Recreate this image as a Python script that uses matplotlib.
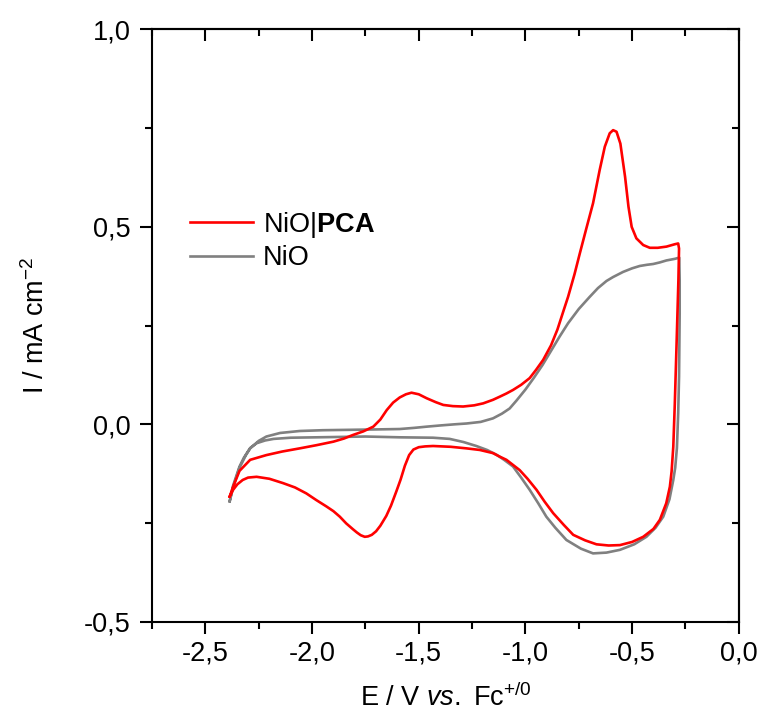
import matplotlib

matplotlib.use("Agg")
import matplotlib.pyplot as plt
from matplotlib.ticker import MultipleLocator, FuncFormatter

# NiO|PCA cyclic voltammogram (anodic then cathodic)
red_e = [
    -2.386, -2.37, -2.34, -2.29, -2.214, -2.14, -2.058, -1.98, -1.90, -1.85,
    -1.808, -1.76, -1.713, -1.68, -1.65, -1.62, -1.589, -1.56, -1.534, -1.50,
    -1.463, -1.42, -1.385, -1.34, -1.292, -1.24, -1.198, -1.152, -1.12, -1.089,
    -1.058, -1.02, -0.98, -0.95, -0.917, -0.88, -0.85, -0.82, -0.80, -0.77,
    -0.745, -0.715, -0.683, -0.652, -0.628, -0.605, -0.589, -0.573, -0.555, -0.533,
    -0.517, -0.502, -0.48, -0.448, -0.417, -0.38, -0.339, -0.30, -0.284, -0.280,
    -0.283, -0.292, -0.300, -0.307, -0.315, -0.323, -0.34, -0.37, -0.40, -0.448,
    -0.50, -0.557, -0.61, -0.667, -0.72, -0.776, -0.82, -0.87, -0.91, -0.948,
    -0.99, -1.027, -1.058, -1.089, -1.12, -1.152, -1.214, -1.276, -1.35, -1.433,
    -1.47, -1.50, -1.525, -1.545, -1.565, -1.585, -1.605, -1.63, -1.652, -1.68,
    -1.70, -1.72, -1.738, -1.753, -1.772, -1.79, -1.808, -1.84, -1.87, -1.90,
    -1.933, -1.98, -2.027, -2.08, -2.136, -2.20, -2.26, -2.30, -2.325, -2.35,
    -2.37, -2.386,
]
red_i = [
    -0.183, -0.158, -0.118, -0.090, -0.078, -0.069, -0.061, -0.053, -0.044, -0.036,
    -0.027, -0.018, -0.006, 0.012, 0.036, 0.055, 0.068, 0.076, 0.080, 0.076,
    0.066, 0.056, 0.049, 0.046, 0.045, 0.048, 0.053, 0.062, 0.070, 0.078,
    0.087, 0.100, 0.117, 0.138, 0.163, 0.200, 0.240, 0.290, 0.323, 0.380,
    0.433, 0.495, 0.560, 0.644, 0.703, 0.737, 0.745, 0.741, 0.711, 0.627,
    0.551, 0.500, 0.471, 0.454, 0.447, 0.447, 0.450, 0.456, 0.458, 0.445,
    0.365, 0.196, 0.050, -0.057, -0.120, -0.158, -0.200, -0.242, -0.265, -0.285,
    -0.298, -0.306, -0.307, -0.304, -0.294, -0.280, -0.255, -0.225, -0.196, -0.166,
    -0.138, -0.116, -0.103, -0.090, -0.082, -0.073, -0.065, -0.061, -0.057, -0.055,
    -0.056, -0.058, -0.064, -0.078, -0.105, -0.140, -0.170, -0.206, -0.232, -0.257,
    -0.271, -0.280, -0.284, -0.285, -0.281, -0.274, -0.266, -0.251, -0.234, -0.220,
    -0.208, -0.192, -0.175, -0.160, -0.149, -0.138, -0.133, -0.135, -0.141, -0.152,
    -0.166, -0.183,
]

# bare NiO
gray_e = [
    -2.386, -2.37, -2.34, -2.31, -2.29, -2.25, -2.214, -2.15, -2.058, -1.95,
    -1.82, -1.70, -1.589, -1.52, -1.463, -1.40, -1.33, -1.276, -1.21, -1.152,
    -1.11, -1.074, -1.042, -1.0, -0.96, -0.92, -0.88, -0.84, -0.80, -0.75,
    -0.70, -0.66, -0.62, -0.589, -0.542, -0.50, -0.464, -0.43, -0.401, -0.37,
    -0.339, -0.30, -0.279,
    -0.277, -0.277, -0.280, -0.284, -0.29, -0.298, -0.307, -0.325, -0.354, -0.39,
    -0.433, -0.49, -0.557, -0.62, -0.683, -0.74, -0.808, -0.86, -0.902, -0.94,
    -0.98, -1.02, -1.058, -1.10, -1.136, -1.18, -1.23, -1.29, -1.355, -1.433,
    -1.589, -1.75, -1.98, -2.10, -2.18, -2.22, -2.26, -2.29, -2.32, -2.34,
    -2.37, -2.386,
]
gray_i = [
    -0.195, -0.160, -0.110, -0.078, -0.061, -0.042, -0.031, -0.022, -0.017, -0.015,
    -0.014, -0.013, -0.012, -0.009, -0.006, -0.003, 0.000, 0.002, 0.006, 0.015,
    0.027, 0.040, 0.060, 0.088, 0.118, 0.150, 0.186, 0.222, 0.256, 0.292,
    0.322, 0.345, 0.363, 0.373, 0.386, 0.395, 0.401, 0.404, 0.406, 0.410,
    0.415, 0.419, 0.422,
    0.365, 0.281, 0.120, 0.028, -0.060, -0.110, -0.141, -0.190, -0.234, -0.262,
    -0.285, -0.304, -0.318, -0.325, -0.327, -0.315, -0.293, -0.262, -0.234, -0.200,
    -0.166, -0.135, -0.107, -0.090, -0.077, -0.065, -0.055, -0.045, -0.037, -0.034,
    -0.033, -0.031, -0.033, -0.034, -0.037, -0.041, -0.048, -0.060, -0.085, -0.107,
    -0.155, -0.195,
]

labels = [r"NiO|$\mathbf{PCA}$", "NiO"]

plt.rcParams["font.family"] = ["Liberation Sans", "DejaVu Sans"]
plt.rcParams["mathtext.fontset"] = "custom"
plt.rcParams["mathtext.rm"] = "Liberation Sans"
plt.rcParams["mathtext.it"] = "Liberation Sans:italic"
plt.rcParams["mathtext.bf"] = "Liberation Sans:bold"

fs = 19.5
fig = plt.figure(figsize=(7.64, 7.24), dpi=100)
ax = fig.add_axes([0.199, 0.1413, 0.768, 0.818])

ax.plot(red_e, red_i, color="#ff0000", linewidth=1.9, label=labels[0], zorder=3,
        solid_joinstyle="round")
ax.plot(gray_e, gray_i, color="#808080", linewidth=1.9, label=labels[1], zorder=2,
        solid_joinstyle="round")

ax.set_xlim(-2.75, 0.0)
ax.set_ylim(-0.5, 1.0)

comma = FuncFormatter(lambda v, p: f"{v:.1f}".replace(".", ",").replace("-0,0", "0,0"))
for axis in (ax.xaxis, ax.yaxis):
    axis.set_major_locator(MultipleLocator(0.5))
    axis.set_minor_locator(MultipleLocator(0.25))
    axis.set_major_formatter(comma)

ax.tick_params(which="both", direction="out", width=1.5, labelsize=fs)
ax.tick_params(which="major", length=8.6)
ax.tick_params(which="minor", length=5)
ax.tick_params(axis="x", pad=5)
ax.tick_params(axis="y", pad=7)

top = ax.secondary_xaxis("top")
right = ax.secondary_yaxis("right")
for sec in (top, right):
    sec.tick_params(which="both", direction="in", width=1.5)
    sec.tick_params(which="major", length=8.6)
    sec.tick_params(which="minor", length=5)
top.xaxis.set_major_locator(MultipleLocator(0.5))
top.xaxis.set_minor_locator(MultipleLocator(0.25))
top.set_xticklabels([])
right.yaxis.set_major_locator(MultipleLocator(0.5))
right.yaxis.set_minor_locator(MultipleLocator(0.25))
right.set_yticklabels([])
for sec in (top, right):
    for sp in sec.spines.values():
        sp.set_linewidth(1.5)

for sp in ax.spines.values():
    sp.set_linewidth(1.5)

ax.set_xlabel(r"E / V $\mathit{vs.}$ Fc$^{+/0}$", fontsize=fs, labelpad=12)
ax.set_ylabel(r"I / mA cm$^{-2}$", fontsize=fs, labelpad=24)

ax.legend(
    loc="center left",
    bbox_to_anchor=(0.234, 0.668),
    bbox_transform=fig.transFigure,
    frameon=False,
    fontsize=fs,
    handlelength=2.35,
    handletextpad=0.35,
    labelspacing=0.2,
    borderaxespad=0,
)

fig.savefig("out.png", dpi=100)
